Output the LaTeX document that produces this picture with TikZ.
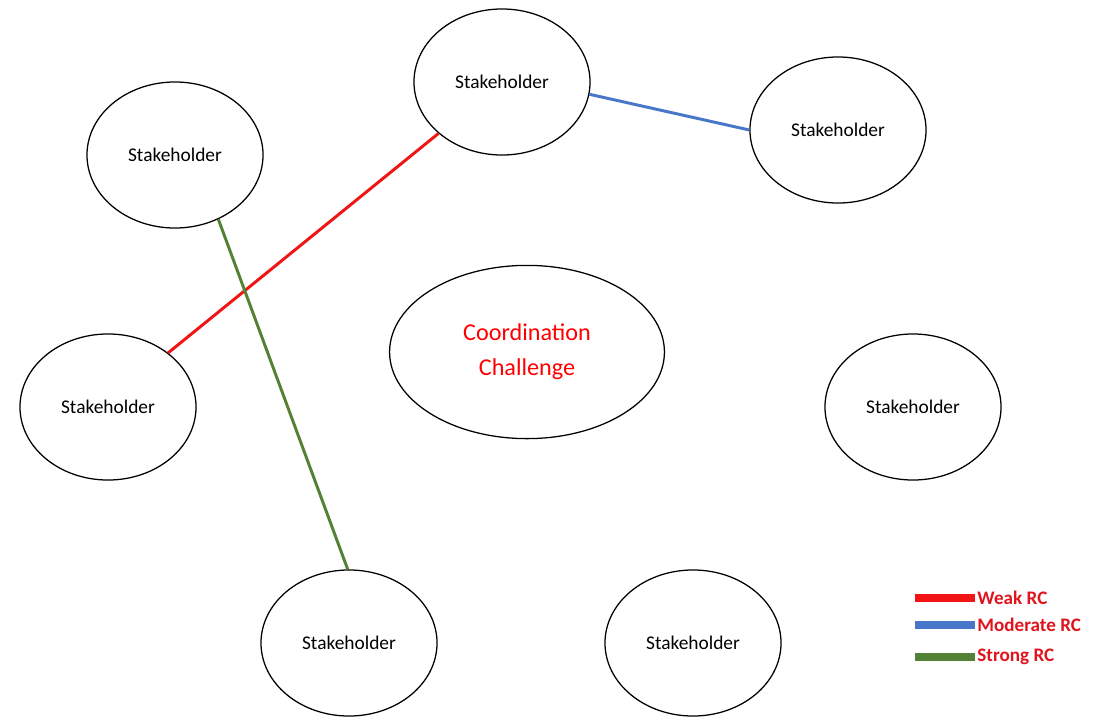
\documentclass[tikz,border=0pt]{standalone}
\usepackage{fontspec}
\setmainfont{Carlito}
\usetikzlibrary{shapes.geometric}

\definecolor{weakred}{RGB}{240,20,20}
\definecolor{modblue}{RGB}{72,118,200}
\definecolor{stronggreen}{RGB}{84,130,53}
\definecolor{legendred}{RGB}{225,20,30}

\tikzset{
    stakeholder/.style={draw, ellipse, line width=0.9pt, inner sep=0pt,
        minimum width=4.4cm, minimum height=3.65cm, font=\fontsize{13.8}{16}\selectfont},
    link/.style={line width=2.1pt},
    legendbar/.style={line width=5.4pt},
    legendtext/.style={right, text=legendred, font=\bfseries\fontsize{13.6}{15}\selectfont, inner sep=1.5pt}
}

\begin{document}
\begin{tikzpicture}[x=0.025cm, y=-0.025cm]
            \useasboundingbox (0, 0) rectangle (1104, 717);
            \node[stakeholder] (top) at (502, 82) {Stakeholder};
            \node[stakeholder] (topright) at (838, 130) {Stakeholder};
            \node[stakeholder] (lefttop) at (175, 155) {Stakeholder};
            \node[stakeholder] (leftmid) at (108, 407) {Stakeholder};
            \node[stakeholder] (rightmid) at (913, 407) {Stakeholder};
            \node[stakeholder] (botleft) at (349, 643) {Stakeholder};
            \node[stakeholder] (botmid) at (693, 643) {Stakeholder};
            \node[draw, ellipse, line width=0.9pt, inner sep=0pt, minimum width=6.87cm, minimum height=4.33cm,
                text=red, align=center, font=\fontsize{17.2}{24.8}\selectfont] (challenge) at (527, 352) {Coordination\\Challenge};
            % relationship links
            \draw[link, weakred] (leftmid.42) -- (top.219);
            \draw[link, modblue] (top.-8) -- (topright.180);
            \draw[link, stronggreen] (lefttop.-56) -- (botleft.91);
            % legend
            \coordinate (weakA) at (915, 598);
            \coordinate (weakB) at (975, 598);
            \coordinate (modA) at (915, 625);
            \coordinate (modB) at (975, 625);
            \coordinate (strongA) at (915, 657);
            \coordinate (strongB) at (975, 657);
            \draw[legendbar, weakred] (weakA) -- (weakB);
            \draw[legendbar, modblue] (modA) -- (modB);
            \draw[legendbar, stronggreen] (strongA) -- (strongB);
            \node[legendtext] (weaklabel) at (weakB) {Weak RC};
            \node[legendtext] (modlabel) at (modB) {Moderate RC};
            \node[legendtext] (stronglabel) at (strongB) {Strong RC};
        \end{tikzpicture}
\end{document}
